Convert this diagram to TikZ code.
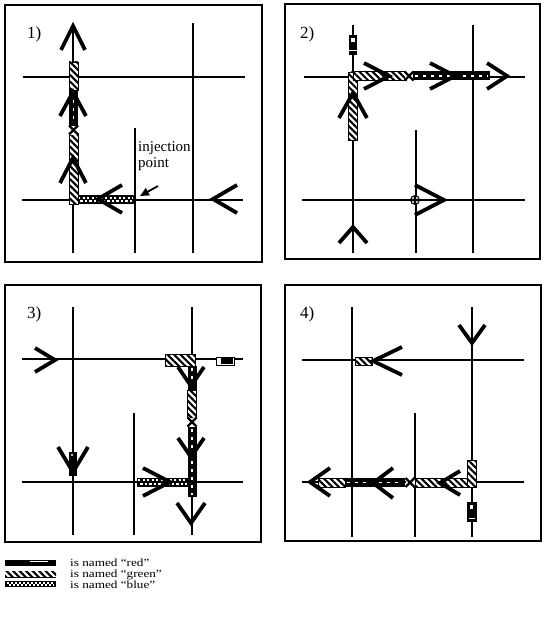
\documentclass[tikz,border=0pt]{standalone}
\usepackage{fontspec}
\setmainfont{Liberation Serif}
\usepackage{graphicx}
\usetikzlibrary{patterns.meta,arrows.meta}

\tikzset{
  gridln/.style={line width=2.4pt},
  framebox/.style={line width=2.3pt},
  chev/.style={line width=3.8pt},
  tag/.style={font=\fontsize{17}{17}\selectfont, anchor=north west, inner sep=0pt},
  hatchfill/.style={pattern={Lines[angle=-45,distance=4.6pt,line width=2.1pt]}},
  legendtxt/.style={font=\fontsize{11}{12}\selectfont, anchor=base west, inner sep=0pt},
}

% worm segments: horizontal (x1,x2,y) and vertical (y1,y2,x)
\newcommand\hred[3]{%
  \fill ({#1},{#3-4.5}) rectangle ({#2},{#3+4.5});
  \draw[white,line width=1.3pt,dash pattern=on 3pt off 5pt] ({#1+2},{#3}) -- ({#2-2},{#3});}
\newcommand\vred[3]{%
  \fill ({#3-4.5},{#1}) rectangle ({#3+4.5},{#2});
  \draw[white,line width=1.3pt,dash pattern=on 3pt off 5pt] ({#3},{#1+2}) -- ({#3},{#2-2});}
\newcommand\hgreen[3]{%
  \fill[white] ({#1},{#3-4.5}) rectangle ({#2},{#3+4.5});
  \fill[hatchfill] ({#1},{#3-4.5}) rectangle ({#2},{#3+4.5});
  \draw[line width=0.8pt] ({#1},{#3-4.5}) rectangle ({#2},{#3+4.5});}
\newcommand\vgreen[3]{%
  \fill[white] ({#3-4.5},{#1}) rectangle ({#3+4.5},{#2});
  \fill[hatchfill] ({#3-4.5},{#1}) rectangle ({#3+4.5},{#2});
  \draw[line width=0.8pt] ({#3-4.5},{#1}) rectangle ({#3+4.5},{#2});}
\newcommand\hblue[3]{%
  \fill ({#1},{#3-4.5}) rectangle ({#2},{#3+4.5});
  \draw[white,line width=2pt,dash pattern=on 2.2pt off 2.3pt] ({#1+1},{#3-1.9}) -- ({#2-1},{#3-1.9});
  \draw[white,line width=2pt,dash pattern=on 2.2pt off 2.3pt,dash phase=2.2pt] ({#1+1},{#3+1.9}) -- ({#2-1},{#3+1.9});}
% stop marker between two worms
\newcommand\crossmk[2]{%
  \fill[white] ({#1-4.5},{#2-4.5}) rectangle ({#1+4.5},{#2+4.5});
  \draw[line width=2.2pt] ({#1-4.5},{#2-4.5}) -- ({#1+4.5},{#2+4.5}) ({#1-4.5},{#2+4.5}) -- ({#1+4.5},{#2-4.5});}
% open arrowhead: tip x, tip y, direction, length, half spread
\newcommand\chv[5]{%
  \draw[chev,shift={(#1,#2)},rotate=#3] (-#4,-#5) -- (0,0) -- (-#4,#5);}

\begin{document}
\begin{tikzpicture}[x=1pt,y=-1pt]
\useasboundingbox (0,0) rectangle (545,623);

% ---------------- panel 1 ----------------
\draw[framebox] (5,5) rectangle (262,262);
\node[tag] (t1) at (27,27) {1)};
\draw[gridln] (73,25) -- (73,253) (135,128) -- (135,253) (193,23) -- (193,253)
              (23,77) -- (245,77) (22,200) -- (243,200);
\hblue{77}{134}{199.5}
\vgreen{133}{204}{73.5}
\crossmk{73.5}{130}
\vred{90}{126}{73.5}
\vgreen{62}{90}{73.5}
\chv{73}{26}{90}{24}{12}
\chv{73}{92}{90}{24}{13}
\chv{73}{158}{90}{25}{13}
\chv{98}{199}{180}{24}{14}
\chv{213}{199}{180}{24}{14}
\node[font=\fontsize{15}{16}\selectfont, anchor=north west, align=left, inner sep=0pt]
  (inj) at (138,141) {injection\\point};
\draw[line width=1.8pt,-{Triangle[length=9pt,width=8pt]}] (158,186) -- (140,196);

% ---------------- panel 2 ----------------
\draw[framebox] (285,4) rectangle (540,259);
\node[tag] (t2) at (300,27) {2)};
\draw[gridln] (353,25) -- (353,253) (416,130) -- (416,253) (473,25) -- (473,253)
              (304,77) -- (525,77) (302,200) -- (525,200);
\fill (349,35) rectangle (357,55);
\fill[white] (351,38) rectangle (355,42);
\draw[white,line width=1pt] (349,51) -- (357,51);
\vgreen{72}{140}{353}
\hgreen{353}{406}{76}
\crossmk{409}{76}
\hred{413}{490}{76}
\chv{389}{76}{0}{25}{13}
\chv{455}{76}{0}{25}{13}
\chv{507}{76}{0}{20}{13}
\chv{353}{93}{90}{25}{14}
\chv{353}{227}{90}{16}{14}
\fill (415,200) circle (5);
\fill[white] (413,198) circle (1.1) (417,198) circle (1.1) (413,202) circle (1.1) (417,202) circle (1.1);
\draw[chev] (415,185) -- (444,200) -- (415,215);

% ---------------- panel 3 ----------------
\draw[framebox] (5,285) rectangle (261,542);
\node[tag] (t3) at (27,307) {3)};
\draw[gridln] (73,307) -- (73,535) (134,413) -- (134,535) (192,307) -- (192,535)
              (22,359) -- (243,359) (22,482) -- (243,482);
\chv{55}{360}{0}{20}{12}
\fill[white] (165,354) rectangle (195,366);
\fill[hatchfill] (165,354) rectangle (195,366);
\draw[line width=0.8pt] (165,354) rectangle (195,366);
\filldraw[fill=white,line width=1pt] (216,357) rectangle (234,365);
\fill (221,358) rectangle (233,364);
\vred{366}{390}{192}
\vgreen{390}{418}{192}
\crossmk{192}{422}
\vred{427}{497}{192}
\chv{191}{386}{-90}{19}{13}
\chv{191}{457}{-90}{19}{13}
\chv{191}{523}{-90}{20}{14}
\fill (69,452) rectangle (77,476);
\fill[white] (72,455) circle (1.2);
\chv{73}{472}{-90}{25}{15}
\hblue{137}{188}{482}
\chv{170}{482}{0}{27}{14}

% ---------------- panel 4 ----------------
\draw[framebox] (285,285) rectangle (541,541);
\node[tag] (t4) at (300,307) {4)};
\draw[gridln] (352,307) -- (352,537) (415,413) -- (415,537) (472,307) -- (472,537)
              (302,360) -- (524,360) (302,482) -- (524,482);
\chv{472}{343}{-90}{18}{13}
\fill[white] (355,357) rectangle (372,365);
\fill[hatchfill] (355,357) rectangle (372,365);
\draw[line width=0.8pt] (355,357) rectangle (372,365);
\chv{373}{361}{180}{29}{14}
\hgreen{318}{345}{482.5}
\hred{345}{405}{482.5}
\crossmk{410}{482.5}
\hgreen{415}{476}{482.5}
\vgreen{460}{487}{472}
\fill (467,502) rectangle (477,522);
\fill[white] (470,505) rectangle (473,509);
\draw[white,line width=0.8pt] (469,518) -- (475,518);
\chv{310}{482}{180}{20}{14}
\chv{373}{483}{180}{20}{15}
\chv{440}{483}{180}{20}{12}

% ---------------- legend ----------------
\fill (5,560) rectangle (56,566);
\draw[white,line width=0.8pt] (30,561.7) -- (48,561.7);
\fill[white] (5,571) rectangle (56,577);
\fill[hatchfill] (5,571) rectangle (56,577);
\draw[line width=0.6pt] (5,577) -- (56,577);
\fill (5,581) rectangle (56,587);
\draw[white,line width=1.4pt,dash pattern=on 2pt off 2pt] (7,582.9) -- (54,582.9);
\draw[white,line width=1.4pt,dash pattern=on 2pt off 2pt,dash phase=2pt] (7,585.1) -- (54,585.1);
\node[legendtxt] (lr) at (70,566) {\scalebox{1.2}[1]{is named ``red''}};
\node[legendtxt] (lg) at (70,577) {\scalebox{1.2}[1]{is named ``green''}};
\node[legendtxt] (lb) at (70,588) {\scalebox{1.2}[1]{is named ``blue''}};
\end{tikzpicture}
\end{document}
